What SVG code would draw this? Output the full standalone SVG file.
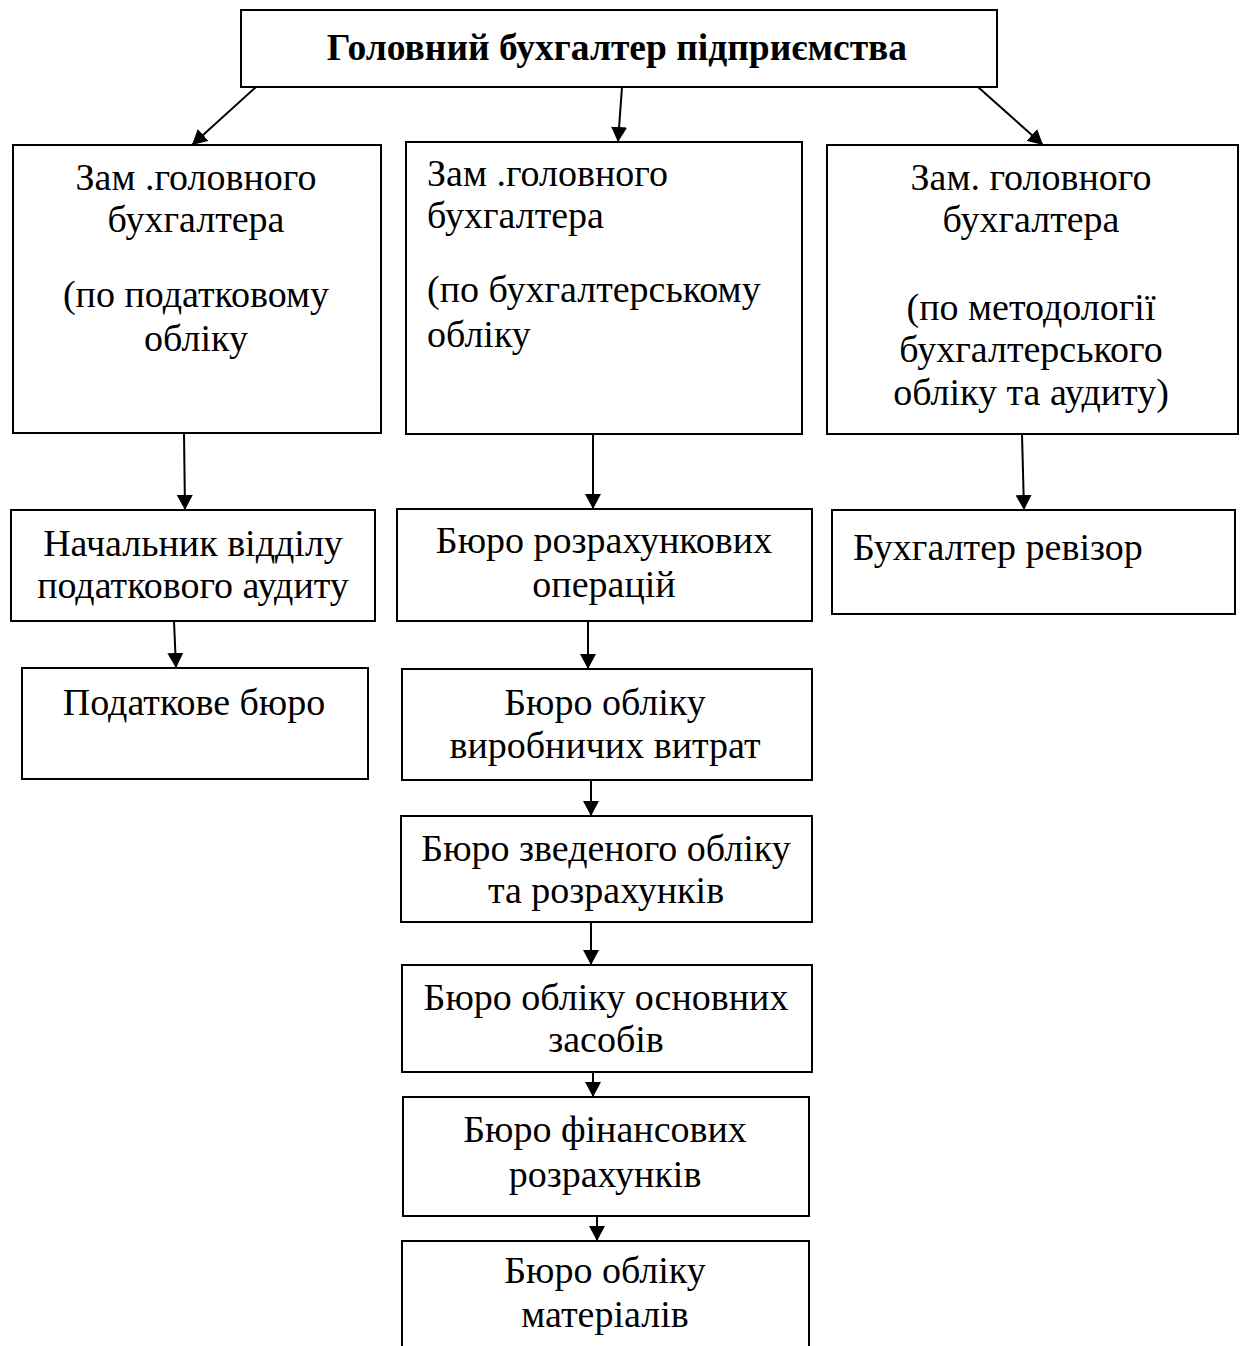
<svg xmlns="http://www.w3.org/2000/svg" width="1243" height="1346" viewBox="0 0 1243 1346">
<style>
.box{fill:#fff;stroke:#000;stroke-width:2}
.t{font-family:"Liberation Serif","Times New Roman",serif;font-size:38px;fill:#000}
.c{text-anchor:middle}
.b{font-weight:bold;font-size:37.5px}
.con line{stroke:#000;stroke-width:2;marker-end:url(#ah)}
</style>
<defs>
<marker id="ah" viewBox="0 0 15 16" refX="15" refY="8" markerWidth="15" markerHeight="16" markerUnits="userSpaceOnUse" orient="auto">
<path d="M0,0 L15,8 L0,16 z" fill="#000"/>
</marker>
</defs>
<rect width="1243" height="1346" fill="#fff"/>
<g id="n-chief">
<rect class="box" x="241" y="10" width="756" height="77"/>
<text class="t c b" x="617" y="60">Головний бухгалтер підприємства</text>
</g>
<g id="n-dep-tax">
<rect class="box" x="13" y="145" width="368" height="288"/>
<text class="t c" x="196" y="190">Зам .головного</text>
<text class="t c" x="196" y="232">бухгалтера</text>
<text class="t c" x="196" y="307">(по податковому</text>
<text class="t c" x="196" y="351">обліку</text>
</g>
<g id="n-dep-acc">
<rect class="box" x="406" y="142" width="396" height="292"/>
<text class="t" x="427" y="186">Зам .головного</text>
<text class="t" x="427" y="228">бухгалтера</text>
<text class="t" x="427" y="302">(по бухгалтерському</text>
<text class="t" x="427" y="347">обліку</text>
</g>
<g id="n-dep-meth">
<rect class="box" x="827" y="145" width="411" height="289"/>
<text class="t c" x="1031" y="190">Зам. головного</text>
<text class="t c" x="1031" y="232">бухгалтера</text>
<text class="t c" x="1031" y="320">(по методології</text>
<text class="t c" x="1031" y="362">бухгалтерського</text>
<text class="t c" x="1031" y="405">обліку та аудиту)</text>
</g>
<g id="n-head-tax-audit">
<rect class="box" x="11" y="510" width="364" height="111"/>
<text class="t c" x="193" y="556">Начальник відділу</text>
<text class="t c" x="193" y="598">податкового аудиту</text>
</g>
<g id="n-tax-bureau">
<rect class="box" x="22" y="668" width="346" height="111"/>
<text class="t c" x="194" y="715">Податкове бюро</text>
</g>
<g id="n-settle">
<rect class="box" x="397" y="509" width="415" height="112"/>
<text class="t c" x="604" y="553">Бюро розрахункових</text>
<text class="t c" x="604" y="597">операцій</text>
</g>
<g id="n-prod">
<rect class="box" x="402" y="669" width="410" height="111"/>
<text class="t c" x="605" y="715">Бюро обліку</text>
<text class="t c" x="605" y="758">виробничих витрат</text>
</g>
<g id="n-summary">
<rect class="box" x="401" y="816" width="411" height="106"/>
<text class="t c" x="606" y="861">Бюро зведеного обліку</text>
<text class="t c" x="606" y="903">та розрахунків</text>
</g>
<g id="n-fixed">
<rect class="box" x="402" y="965" width="410" height="107"/>
<text class="t c" x="606" y="1010">Бюро обліку основних</text>
<text class="t c" x="606" y="1052">засобів</text>
</g>
<g id="n-fin">
<rect class="box" x="403" y="1097" width="406" height="119"/>
<text class="t c" x="605" y="1142">Бюро фінансових</text>
<text class="t c" x="605" y="1187">розрахунків</text>
</g>
<g id="n-mat">
<rect class="box" x="402" y="1241" width="407" height="130"/>
<text class="t c" x="605" y="1283">Бюро обліку</text>
<text class="t c" x="605" y="1327">матеріалів</text>
</g>
<g id="n-auditor">
<rect class="box" x="832" y="510" width="403" height="104"/>
<text class="t" x="853" y="560">Бухгалтер ревізор</text>
</g>
<g id="connectors" class="con">
<line x1="256" y1="87" x2="192" y2="145"/>
<line x1="622" y1="87" x2="618" y2="142"/>
<line x1="978" y1="87" x2="1043" y2="145"/>
<line x1="184" y1="433" x2="185" y2="510"/>
<line x1="593" y1="434" x2="593" y2="509"/>
<line x1="1022" y1="434" x2="1024" y2="510"/>
<line x1="174" y1="621" x2="176" y2="668"/>
<line x1="588" y1="621" x2="588" y2="669"/>
<line x1="591" y1="780" x2="591" y2="816"/>
<line x1="591" y1="922" x2="591" y2="965"/>
<line x1="593" y1="1072" x2="593" y2="1097"/>
<line x1="597" y1="1216" x2="597" y2="1241"/>
</g>
</svg>
